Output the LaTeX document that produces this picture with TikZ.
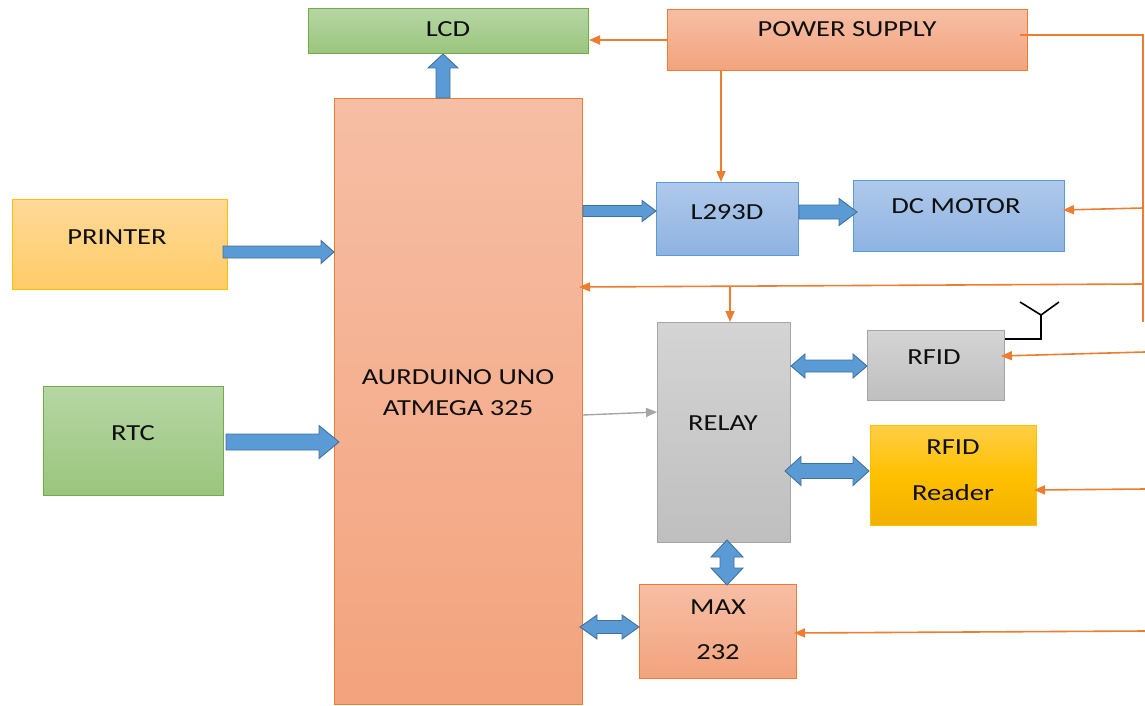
\documentclass[tikz,border=0pt]{standalone}
\usepackage{fontspec}
\setmainfont{Carlito}[FakeStretch=1.24]
\usetikzlibrary{calc,arrows.meta}
\definecolor{salT}{RGB}{246,190,165}
\definecolor{salB}{RGB}{243,163,125}
\definecolor{salD}{RGB}{237,125,49}
\definecolor{grnT}{RGB}{182,214,164}
\definecolor{grnB}{RGB}{155,197,126}
\definecolor{grnD}{RGB}{112,173,71}
\definecolor{bluT}{RGB}{175,201,234}
\definecolor{bluB}{RGB}{142,179,226}
\definecolor{bluD}{RGB}{91,155,213}
\definecolor{gryT}{RGB}{212,212,212}
\definecolor{gryB}{RGB}{191,191,191}
\definecolor{gryD}{RGB}{165,165,165}
\definecolor{yelT}{RGB}{255,217,153}
\definecolor{yelB}{RGB}{255,204,102}
\definecolor{yelD}{RGB}{255,192,0}
\definecolor{golT}{RGB}{255,206,70}
\definecolor{golB}{RGB}{242,176,0}
\definecolor{arrF}{RGB}{91,155,213}
\definecolor{arrD}{RGB}{65,113,156}
\definecolor{txtC}{RGB}{15,15,15}
\tikzset{
  box/.style={draw, line width=1pt, inner sep=0pt, anchor=north west},
  salbox/.style={box, draw=salD, top color=salT, bottom color=salB},
  grnbox/.style={box, draw=grnD, top color=grnT, bottom color=grnB},
  blubox/.style={box, draw=bluD, top color=bluT, bottom color=bluB},
  grybox/.style={box, draw=gryD, top color=gryT, bottom color=gryB},
  yelbox/.style={box, draw=yelD, top color=yelT, bottom color=yelB},
  golbox/.style={box, draw=yelD, top color=golT, bottom color=golB, middle color=yelD},
  txt/.style={inner sep=0pt, text=txtC, font=\fontsize{23}{31}\selectfont, align=center},
  blockarr/.style={draw=arrD, fill=arrF, line width=0.9pt, line join=miter},
  oline/.style={draw=salD, line width=1.6pt, -{Triangle[length=11pt,width=9pt]}},
  obus/.style={draw=salD, line width=1.6pt},
  gline/.style={draw=gryD, line width=1.4pt, -{Triangle[length=11pt,width=9pt]}},
}
% single block arrow: #1 from, #2 to, #3 shaft half, #4 head half, #5 head length
\newcommand\blkarrow[5]{%
  \coordinate (bkC) at ($(#2)!#5!(#1)$);
  \draw[blockarr] ($(#1)!#3!90:(#2)$) -- ($(bkC)!#3!90:(#2)$) -- ($(bkC)!#4!90:(#2)$) -- (#2)
    -- ($(bkC)!#4!-90:(#2)$) -- ($(bkC)!#3!-90:(#2)$) -- ($(#1)!#3!-90:(#2)$) -- cycle;
}
% double block arrow
\newcommand\dblarrow[5]{%
  \coordinate (bkC1) at ($(#1)!#5!(#2)$);
  \coordinate (bkC2) at ($(#2)!#5!(#1)$);
  \draw[blockarr] (#1) -- ($(bkC1)!#4!90:(#2)$) -- ($(bkC1)!#3!90:(#2)$) -- ($(bkC2)!#3!-90:(#1)$)
    -- ($(bkC2)!#4!-90:(#1)$) -- (#2) -- ($(bkC2)!#4!90:(#1)$) -- ($(bkC2)!#3!90:(#1)$)
    -- ($(bkC1)!#3!-90:(#2)$) -- ($(bkC1)!#4!-90:(#2)$) -- cycle;
}
\begin{document}
\begin{tikzpicture}[x=1pt,y=-1pt]
\useasboundingbox (0,0) rectangle (1145,706);
% boxes
\node[grnbox, minimum width=280, minimum height=45] (lcd) at (308,8) {};
\node[salbox, minimum width=360, minimum height=61] (ps) at (667,9) {};
\node[salbox, minimum width=248, minimum height=606] (ard) at (334,98) {};
\node[yelbox, minimum width=215, minimum height=90] (prn) at (12,199) {};
\node[grnbox, minimum width=180, minimum height=109] (rtc) at (43,386) {};
\node[blubox, minimum width=142, minimum height=73] (l293) at (656,182) {};
\node[blubox, minimum width=211, minimum height=71] (dcm) at (853,180) {};
\node[grybox, minimum width=133, minimum height=220] (relay) at (657,322) {};
\node[grybox, minimum width=137, minimum height=70] (rfid) at (867,330) {};
\node[golbox, minimum width=166, minimum height=100] (rdr) at (870,425) {};
\node[salbox, minimum width=157, minimum height=94] (max) at (639,584) {};
% texts
\node[txt] (lcdT) at (448,29) {LCD};
\node[txt] (psT) at (847,29) {POWER SUPPLY};
\node[txt] (ardT) at (458,393) {AURDUINO UNO\\ATMEGA 325};
\node[txt] (prnT) at (117,237) {PRINTER};
\node[txt] (rtcT) at (133,433) {RTC};
\node[txt] (l293T) at (727,212) {L293D};
\node[txt] (dcmT) at (956,206) {DC MOTOR};
\node[txt] (relayT) at (723,423) {RELAY};
\node[txt] (rfidT) at (934,357) {RFID};
\node[txt] (rdrT1) at (953,447) {RFID};
\node[txt] (rdrT2) at (953,493) {Reader};
\node[txt] (maxT1) at (718,607) {MAX};
\node[txt] (maxT2) at (718,652) {232};
% block arrow endpoints
\coordinate (a1) at (ard.north -| 443,0);
\coordinate (b1) at (lcd.south -| 443,0);
\coordinate (a2) at (ard.east |- 0,211);
\coordinate (b2) at (l293.west |- 0,211);
\coordinate (a3) at (l293.east |- 0,212);
\coordinate (b3) at ([xshift=4pt]dcm.west |- 0,212);
\coordinate (a4) at ([xshift=-5pt]prn.east |- 0,252);
\coordinate (b4) at (ard.west |- 0,252);
\coordinate (a5) at ([xshift=2pt]rtc.east |- 0,442);
\coordinate (b5) at ([xshift=5pt]ard.west |- 0,442);
\coordinate (a6) at (relay.east |- 0,366);
\coordinate (b6) at (rfid.west |- 0,366);
\coordinate (a7) at ([xshift=-6pt]relay.east |- 0,471);
\coordinate (b7) at ([xshift=-1pt]rdr.west |- 0,471);
\coordinate (a8) at ([yshift=3pt]relay.south -| 727,0);
\coordinate (b8) at ([yshift=-1pt]max.north -| 727,0);
\coordinate (a9) at ([xshift=-3pt]ard.east |- 0,627);
\coordinate (b9) at (max.west |- 0,627);
\blkarrow{a1}{b1}{7pt}{15pt}{14pt}
\blkarrow{a2}{b2}{5.5pt}{10.5pt}{14pt}
\blkarrow{a3}{b3}{7pt}{13.5pt}{18pt}
\blkarrow{a4}{b4}{6pt}{11.5pt}{13pt}
\blkarrow{a5}{b5}{8pt}{16.5pt}{20pt}
\dblarrow{a6}{b6}{6pt}{12pt}{14pt}
\dblarrow{a7}{b7}{7.5pt}{14.5pt}{16pt}
\dblarrow{a8}{b8}{7pt}{16pt}{17pt}
\dblarrow{a9}{b9}{6.5pt}{12pt}{17pt}
% power bus
\coordinate (psOut) at (1020,35);
\coordinate (busTop) at (1143,35);
\coordinate (busBot) at (1143,322);
\coordinate (busDC) at (1143,208);
\coordinate (busArd) at (1143,284);
\coordinate (tapRelay) at (730,286);
\coordinate (busRfid) at (1145,352);
\coordinate (busRdr) at (1145,489);
\coordinate (busMax) at (1145,631);
\draw[obus] (psOut) -- (busTop) -- (busBot);
\draw[oline] (ps.west) -- (lcd.east |- 0,40);
\draw[oline] (ps.south -| 721,0) -- (l293.north -| 721,0);
\draw[oline] (busDC) -- ([xshift=-2pt]dcm.east |- 0,210);
\draw[oline] (busArd) -- ([xshift=-4pt]ard.east |- 0,287);
\draw[oline] (tapRelay) -- (relay.north -| 730,0);
\draw[oline] (busRfid) -- ([xshift=-4pt]rfid.east |- 0,356);
\draw[oline] (busRdr) -- ([xshift=-3pt]rdr.east |- 0,490);
\draw[oline] (busMax) -- ([xshift=-3pt]max.east |- 0,633);
\draw[gline] (ard.east |- 0,415) -- (relay.west |- 0,412);
% antenna
\coordinate (antBase) at (1041,339);
\coordinate (antTop) at (1041,315);
\draw[black, line width=1.6pt] (rfid.east |- 0,339) -- (antBase) -- (antTop);
\draw[black, line width=1.6pt] (1020,302) -- (antTop) -- (1059,302);
\end{tikzpicture}
\end{document}
